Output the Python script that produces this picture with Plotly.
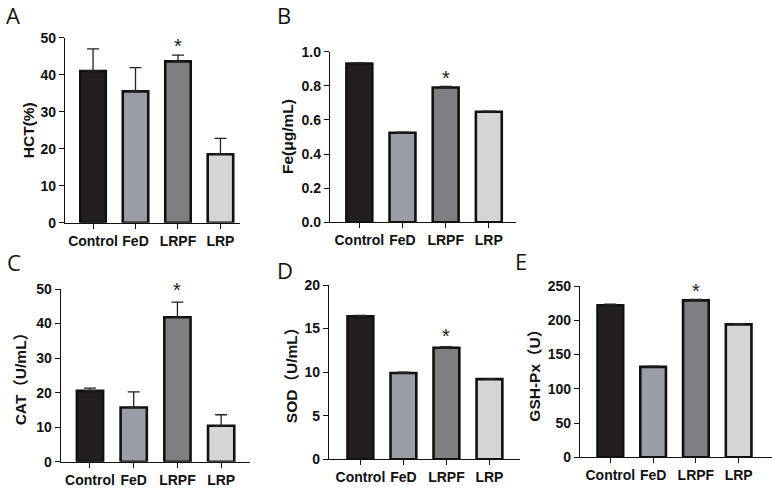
import plotly.graph_objects as go

W, H = 772, 488

groups = ["Control", "FeD", "LRPF", "LRP"]
colors = ["#231f20", "#9a9da5", "#7e7f83", "#d4d5d7"]

hct_mean = [41.0, 35.5, 43.6, 18.5]
hct_err = [6.0, 6.4, 1.7, 4.3]
fe_mean = [0.93, 0.525, 0.79, 0.648]
fe_err = [0.004, 0.004, 0.006, 0.003]
cat_mean = [20.5, 15.7, 41.8, 10.4]
cat_err = [0.8, 4.5, 4.4, 3.2]
sod_mean = [16.4, 9.9, 12.8, 9.2]
sod_err = [0.12, 0.1, 0.12, 0.06]
gsh_mean = [222.0, 132.0, 229.0, 194.0]
gsh_err = [1.5, 1.0, 1.5, 1.0]

titles = ["HCT(%)", "Fe(μg/mL)", "CAT（U/mL）", "SOD（U/mL）", "GSH-Px（U）"]
letters = ["A", "B", "C", "D", "E"]

# pixel layout of each panel
panels = [
    (65, 240, 37.7, 222.7, [-0.66, 3.46], 50, 10, "d", 28, 4, 15),
    (330, 516, 51.7, 222.3, [-0.68, 3.63], 1.0, 0.2, ".1f", 287, 275, 15),
    (60.7, 250, 289, 461.7, [-0.67, 3.66], 50, 10, "d", 20, 5, 262),
    (329, 520, 285, 459.3, [-0.73, 3.71], 20, 5, "d", 291, 275, 270),
    (580, 772, 286, 457.3, [-0.71, 3.78], 250, 50, "d", 535, 513, 261),
]
data = [(hct_mean, hct_err), (fe_mean, fe_err), (cat_mean, cat_err),
        (sod_mean, sod_err), (gsh_mean, gsh_err)]
star_shift = [9, 9, 12, 11, 8]

fig = go.Figure()
annotations = []
font_main = "Liberation Sans, Arial, sans-serif"

for i, (p, (m, e)) in enumerate(zip(panels, data)):
    x0, x1, yt, yb, xr, ymax, dt, fmt, tx, lx, ly = p
    sfx = "" if i == 0 else str(i + 1)
    fig.add_trace(go.Bar(
        x=groups, y=m, width=0.6,
        marker=dict(color=colors, line=dict(color="#111111", width=2.6)),
        error_y=dict(type="data", array=e, symmetric=False, arrayminus=[0] * 4,
                     color="#222222", thickness=1.3, width=6),
        xaxis="x" + sfx, yaxis="y" + sfx, showlegend=False,
    ))
    fig.layout["xaxis" + sfx] = dict(
        domain=[x0 / W, x1 / W], range=xr, anchor="y" + sfx, automargin=False,
        showline=True, linecolor="#111111", linewidth=1.3,
        ticks="outside", ticklen=5, tickwidth=1.3, tickcolor="#111111",
        tickfont=dict(family=font_main, size=14, color="#111111", weight="bold"),
        showgrid=False, zeroline=False, fixedrange=True,
    )
    fig.layout["yaxis" + sfx] = dict(
        domain=[1 - yb / H, 1 - yt / H], range=[0, ymax], anchor="x" + sfx,
        automargin=False, dtick=dt, tickformat=fmt,
        showline=True, linecolor="#111111", linewidth=1.3,
        ticks="outside", ticklen=5, tickwidth=1.3, tickcolor="#111111",
        tickfont=dict(family=font_main, size=14, color="#111111", weight="bold"),
        showgrid=False, zeroline=False, fixedrange=True,
    )
    annotations.append(dict(
        text=titles[i], textangle=-90, xref="paper", yref="paper",
        x=tx / W, y=1 - (yt + yb) / 2 / H, xanchor="center", yanchor="middle",
        showarrow=False,
        font=dict(family=font_main + ", Noto Sans CJK SC", size=15.5, color="#111111", weight="bold"),
    ))
    annotations.append(dict(
        text=letters[i], xref="paper", yref="paper",
        x=lx / W, y=1 - ly / H, xanchor="left", yanchor="middle",
        showarrow=False, font=dict(family="Open Sans, sans-serif", size=22, color="#111111"),
    ))
    annotations.append(dict(
        text="*", xref="x" + sfx, yref="y" + sfx,
        x=groups[2], y=m[2] + e[2], xanchor="center", yanchor="middle",
        yshift=star_shift[i], showarrow=False,
        font=dict(family=font_main, size=20, color="#222222"),
    ))

fig.update_layout(
    width=W, height=H, margin=dict(l=0, r=0, t=0, b=0),
    paper_bgcolor="white", plot_bgcolor="white",
    annotations=annotations, bargap=0.3,
)
fig.write_html(
    "out.html", config={"displayModeBar": False},
    post_script="document.body.style.margin='0';document.body.style.padding='0';document.body.style.overflow='hidden';",
)
